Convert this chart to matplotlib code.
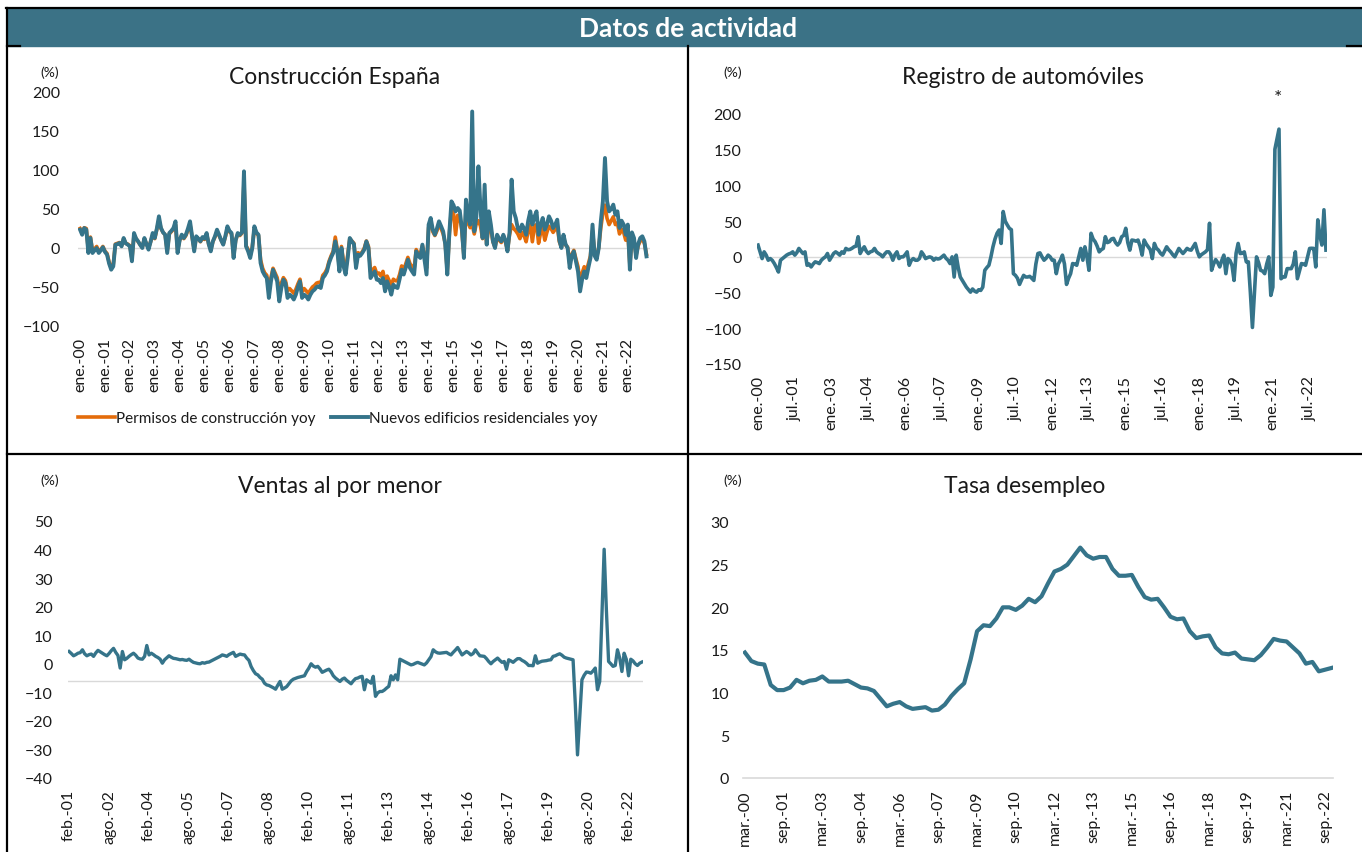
import matplotlib
matplotlib.use("Agg")
import matplotlib.pyplot as plt
from matplotlib.lines import Line2D
from matplotlib.patches import Rectangle
import numpy as np

# Datos de actividad - España (yoy %, tasa de paro %)

# Construcción: mensual, ene.-00 .. oct.-22
nuevos_edificios = [
    23.5, 17, 25.6, 23.5, -6.4, 12.8, -6.4, -3, 0, -6.4, -3, 1,
    -5, -8.5, -20, -27.8, -23.5, 4.3, 5, 6.4, 2.1, 12.8, 6, 4.3,
    2.1, -17, 19.2, 12, 8.5, 4, 0, 12.8, 5, -2.1, 8, 19.2,
    12.8, 25, 40.6, 25.6, 20, 17.1, -6.4, 19.2, 22, 25.6, 34.2, -6.4,
    10, 17.1, 12.8, 17.1, 25, 34.2, 15, -4.3, 15, 12, 8.5, 14,
    12, 19.2, 5, -4.3, 8.5, 15, 23.5, 17, 10, 4.3, 15, 27.8,
    22, 19.2, -12.8, 10, 19.2, 17, 20, 98.3, 2.1, -4.3, -12.8, 0,
    27.8, 20, 17, -19.2, -30, -35, -38.5, -64, -42.7, -27.8, -35, -42.7,
    -68.4, -51.3, -40.6, -45, -64, -59.8, -62, -66, -59.8, -50, -42.7, -64,
    -59.8, -62, -66, -60, -55.6, -53.4, -50, -49, -51.3, -38.5, -35, -30,
    -19.2, -12, -6.4, 8.5, -4.3, -30, 0, -23.5, -34, -12.8, 12.8, 8.5,
    5, -25.6, -8.5, -10, -6.4, -2, 8.5, 0, -38.5, -34, -30, -40.6,
    -40.6, -45, -38.5, -55.6, -42.7, -50, -59.8, -47, -50, -51.3, -40, -27.8,
    -34, -25, -15, -25.6, -30, -34, -4.3, -10, -12.8, 4.3, -15, -34,
    30, 38.5, 23.5, 17, 25, 34.2, 28, 21.4, 5, -34, 20, 59.8,
    55, 47, 51.3, 48, 25.6, -12.8, 62, 40, 30, 175, 21.4, 40,
    104.7, 50, 12.8, 81.2, 4.3, 47, 30, 8.5, 0, 17, 12, 8.5,
    17, 10, -4.3, 20, 87.6, 47, 38.5, 25, 21.4, 30, 25, 17,
    35, 47, 30, 40, 47, 17, 30, 38.5, 23.5, 30, 40.6, 35,
    25.6, 30, 36.3, 10, 0, 17, 5, 0, -25.6, -10, -4.3, -17,
    -30, -55.6, -40, -30, -38.5, -25, -12.8, 30, -10, -15, 0, 34.2,
    60, 115.4, 60, 47, 50, 55.6, 42.7, 47, 25.6, 35, 30, 17,
    30, -27.8, 20, 12.8, -12.8, 5, 12.8, 15, 8.5, -10.7,
]
permisos = [
    25, 20, 26, 25, -3, 14, -4, -1, 2, -4, -2, 2,
    -4, -7, -18, -25, -21, 5, 6, 7, 3, 12, 6, 5,
    3, -14, 17, 12, 8, 4, 1, 12, 5, 0, 8, 17,
    12, 24, 36, 25, 20, 17, -4, 18, 21, 24, 30, -3,
    10, 16, 12, 16, 23, 30, 14, -2, 14, 12, 8, 13,
    11, 18, 5, -2, 8, 14, 21, 16, 10, 5, 14, 24,
    21, 18, -10, 10, 18, 16, 19, 85, 3, -2, -10, 1,
    25, 19, 16, -15, -26, -32, -35, -55, -38, -26, -32, -38,
    -55, -45, -38, -42, -55, -52, -55, -58, -53, -46, -40, -56,
    -52, -55, -58, -54, -50, -48, -45, -44, -45, -35, -32, -27,
    -17, -10, -4, 14, -2, -25, 2, -18, -28, -9, 12, 9,
    6, -22, -6, -8, -5, 0, 9, 2, -30, -28, -25, -33,
    -32, -36, -30, -44, -36, -42, -48, -40, -42, -42, -34, -23,
    -28, -20, -12, -20, -24, -27, -2, -7, -8, 3, -10, -26,
    26, 34, 21, 16, 22, 30, 25, 18, 6, -30, 18, 50,
    45, 17, 42, 40, 22, -10, 50, 32, 26, 30, 18, 32,
    35, 28, 12, 30, 5, 32, 24, 8, 1, 14, 10, 7,
    14, 8, -3, 17, 30, 25, 22, 18, 12, 20, 16, 8,
    22, 30, 8, 28, 30, 6, 20, 25, 10, 20, 28, 25,
    20, 24, 28, 8, 1, 14, 4, 1, -20, -8, -3, -14,
    -24, -44, -32, -24, -30, -20, -10, 22, -7, -12, 1, 26,
    45, 55, 38, 30, 35, 40, 30, 32, 18, 24, 20, 10,
    20, -22, 14, 8, -9, 3, 9, 11, 6, -8,
]
construccion_ticks = [
    "ene.-00", "ene.-01", "ene.-02", "ene.-03", "ene.-04", "ene.-05",
    "ene.-06", "ene.-07", "ene.-08", "ene.-09", "ene.-10", "ene.-11",
    "ene.-12", "ene.-13", "ene.-14", "ene.-15", "ene.-16", "ene.-17",
    "ene.-18", "ene.-19", "ene.-20", "ene.-21", "ene.-22",
]

# Registro de automóviles: mensual, ene.-00 .. mar.-23
automoviles = [
    16.5, 7, -2.4, 7, 2.4, -4.7, -2.4, -5, -9.4, -15, -21.2, -4.7,
    -2.4, 0, 2.4, 4, 5, 7, 2.4, 6, 11.8, 8, 4.7, 7,
    -11.8, -10, -14.1, -10, -7, -8, -9.4, -4.7, -2, 0, 4.7, -4.7,
    0, 4.7, 7, 5, 2.4, 7, 5, 11.8, 10, 10.4, 12, 14.1,
    15, 28.2, 4.7, 10, 14.1, 8, 4.7, 7, 8, 11.8, 7, 4.7,
    3, 0, 4, 7, 7, 3, -4.7, 3, 7, -2.4, 0, 0,
    3, 7, -11.8, -5, -2.4, -4.7, -4.7, -2.4, 7, 3, -2.4, -1,
    0, -1, -4.7, -2, -3, -2.4, 0, 2.4, -2, -4.7, -9.4, 0,
    -28.2, 2.4, -15, -28.2, -33, -38, -42.4, -46, -49.4, -45, -48, -49.4,
    -46, -47, -42.4, -18.8, -15, -11.8, 0, 14.1, 25, 33, 37.6, 18.8,
    63.5, 50, 44.7, 40, 38, -23.5, -25.9, -30, -38.6, -32, -25.9, -28.2,
    -28.2, -27.3, -30, -33, -10, 4.7, 5.6, 0, -4.7, -2, 2.4, 0,
    -4.7, -4.7, -23.5, -10, -4.7, 2.4, -10, -38.6, -30, -23.5, -9.4, -10,
    -11.8, 0, 11.8, -4.7, 14.1, 0, -18.8, 33, 25, 21.2, 15, 7,
    10, 11.8, 28.2, 20, 21.2, 25, 25.9, 20, 16.5, 20, 28.2, 30,
    40, 20, 9.4, 23.5, 23, 22, 23.5, 15, 2.4, 23.5, 18, 14.1,
    10, -2.4, 18.8, 12, 9.4, 5, 2.4, 8, 14.1, 10, 7, 3,
    0, 6, 11.8, 8, 4.7, 8, 11.8, 10, 9.4, 14, 18.8, 8,
    0, 3, 5, 7, 10, 47, -18.8, -10, -3.8, -8, -14.1, -5,
    2.4, -23.5, -2.4, -5, -11.8, -33, 5, 18.8, 4.7, 5, 7, -7,
    -7, -50, -98.8, -50, 0, -8, -18.8, -20, -23.5, -10, 0, -54,
    -42.4, 150.6, 165, 178.8, -30.6, -28.2, -28.2, -16.5, -16.5, -16.5, -10, 7,
    -30.6, -20, -9.4, -10, -11.8, 0, 11.8, 12, 11.8, -14.1, 51.8, 30,
    16.5, 65.9, 9.4,
]
automoviles_ticks = [
    "ene.-00", "jul.-01", "ene.-03", "jul.-04", "ene.-06", "jul.-07",
    "ene.-09", "jul.-10", "ene.-12", "jul.-13", "ene.-15", "jul.-16",
    "ene.-18", "jul.-19", "ene.-21", "jul.-22",
]

# Ventas al por menor: mensual, feb.-01 .. ago.-22
ventas = [
    4.3, 3.6, 2.8, 3.2, 3.7, 3.9, 4.9, 3.5, 2.8, 3.2, 3.4,
    2.6, 3.8, 4.7, 4.2, 3.7, 3.2, 2.8, 3.6, 4.6, 5.4, 4.0, 2.9,
    -1.5, 4.3, 1.4, 1.9, 2.6, 3.2, 3.7, 3.0, 2.0, 1.7, 1.6, 2.6,
    6.4, 3.1, 3.7, 3.2, 2.6, 2.2, 1.6, 0.2, 1.4, 2.1, 2.8, 2.3,
    1.9, 1.8, 1.6, 1.4, 1.5, 1.3, 1.2, 1.6, 1.0, 0.5, 0.3, 0.1,
    0.0, 0.4, 0.2, 0.5, 0.6, 1.0, 1.4, 1.8, 2.2, 2.6, 3.1, 2.9,
    2.6, 3.2, 3.6, 4.0, 2.6, 3.0, 3.4, 3.2, 3.1, 2.0, 1.2, -1.0,
    -2.4, -3.5, -3.9, -4.8, -5.4, -6.8, -7.4, -7.6, -8.0, -8.4, -8.9, -7.5,
    -6.2, -8.9, -8.5, -8.0, -7.0, -6.0, -5.4, -5.1, -4.8, -4.6, -4.4, -4.2,
    -2.7, -1.5, 0.0, -0.8, -1.2, -0.9, -1.8, -3.0, -2.6, -2.2, -1.9, -2.8,
    -4.2, -5.0, -5.6, -6.2, -5.4, -5.0, -5.8, -6.4, -7.0, -6.0, -5.2, -5.0,
    -4.6, -4.4, -9.1, -5.6, -6.2, -6.8, -4.4, -11.4, -10.2, -9.7, -9.7, -9.2,
    -8.5, -7.9, -4.2, -5.6, -3.9, -5.6, 1.6, 1.2, 0.8, 0.4, 0.0, -0.4,
    -0.2, 0.2, 0.5, 0.2, -0.1, -0.4, 0.3, 1.4, 2.5, 4.9, 4.2, 3.8,
    3.7, 3.8, 3.9, 4.0, 3.5, 3.1, 4.0, 4.8, 5.7, 4.4, 3.1, 3.7,
    4.3, 3.8, 3.1, 3.6, 4.9, 3.8, 2.8, 2.7, 2.6, 1.8, 0.8, 0.0,
    0.8, 1.4, 2.0, 1.2, 0.5, 0.8, -1.9, 1.4, 1.0, 0.5, 1.2, 1.8,
    1.8, 1.2, 0.8, 0.2, -0.6, -0.6, -0.7, 2.8, 0.2, 0.6, 0.9, 1.0,
    1.1, 1.3, 1.4, 2.6, 2.8, 3.2, 3.5, 3.0, 2.3, 2.0, 1.8, 1.6,
    1.4, -14.0, -31.9, -19.0, -5.6, -4.0, -2.9, -3.0, -3.3, -2.5, -1.5, -9.1,
    -6.2, 17.0, 40.1, 19.0, 0.8, 0.0, -0.9, -0.6, 4.9, 2.0, -2.7, 3.7,
    1.5, -4.2, 1.6, 1.0, 0.0, -0.6, 0.2, 0.6,
]
ventas_ticks = [
    "feb.-01", "ago.-02", "feb.-04", "ago.-05", "feb.-07", "ago.-08",
    "feb.-10", "ago.-11", "feb.-13", "ago.-14", "feb.-16", "ago.-17",
    "feb.-19", "ago.-20", "feb.-22",
]

# Tasa de desempleo: trimestral, mar.-00 .. dic.-22
desempleo = [
    14.7, 13.7, 13.4, 13.3, 10.9, 10.3, 10.3, 10.6,
    11.5, 11.1, 11.4, 11.5, 11.9, 11.3, 11.3, 11.3,
    11.4, 11.0, 10.6, 10.5, 10.2, 9.3, 8.4, 8.7,
    8.9, 8.4, 8.1, 8.2, 8.3, 7.9, 8.0, 8.6,
    9.6, 10.4, 11.1, 13.9, 17.2, 17.9, 17.8, 18.7,
    20.0, 20.0, 19.7, 20.2, 21.0, 20.6, 21.3, 22.8,
    24.2, 24.5, 25.0, 26.0, 27.0, 26.1, 25.7, 25.9,
    25.9, 24.5, 23.7, 23.7, 23.8, 22.4, 21.2, 20.9,
    21.0, 20.0, 18.9, 18.6, 18.7, 17.2, 16.4, 16.6,
    16.7, 15.3, 14.6, 14.5, 14.7, 14.0, 13.9, 13.8,
    14.4, 15.3, 16.3, 16.1, 16.0, 15.3, 14.6, 13.4,
    13.6, 12.5, 12.7, 12.9,
]
desempleo_ticks = [
    "mar.-00", "sep.-01", "mar.-03", "sep.-04", "mar.-06", "sep.-07",
    "mar.-09", "sep.-10", "mar.-12", "sep.-13", "mar.-15", "sep.-16",
    "mar.-18", "sep.-19", "mar.-21", "sep.-22",
]

W, H = 1362, 853
TEAL = "#35748a"
ORANGE = "#e46c0a"
HEADER = "#3b7286"
ZERO = "#d9d9d9"
INK = "#1a1a1a"

plt.rcParams["font.family"] = ["Lato", "DejaVu Sans"]


def fx(px):
    return px / W


def fy(py):
    return 1 - py / H


def panel(fig, box, xlim, ylim, yticks, step, labels, ypad, xpad):
    # box = (left, top, right, bottom) in pixels
    left, top, right, bottom = box
    ax = fig.add_axes([fx(left), fy(bottom), (right - left) / W, (bottom - top) / H])
    ax.set_xlim(*xlim)
    ax.set_ylim(*ylim)
    for s in ax.spines.values():
        s.set_visible(False)
    ax.set_yticks(yticks)
    ax.set_xticks(np.arange(len(labels)) * step)
    ax.set_xticklabels(labels, rotation=90)
    ax.tick_params(axis="both", length=0, labelsize=11.5, colors=INK)
    ax.tick_params(axis="y", pad=ypad)
    ax.tick_params(axis="x", pad=xpad)
    ax.patch.set_alpha(0)
    return ax


fig = plt.figure(figsize=(W / 100, H / 100), dpi=100)

# header band and frame
fig.add_artist(Rectangle((fx(8), fy(47)), (W - 8) / W, 37 / H,
                         transform=fig.transFigure, color=HEADER, zorder=0))
fig.text(fx(688), fy(29), "Datos de actividad", color="white", fontsize=19,
         fontweight="bold", ha="center", va="center")
frame = [((6, 9), (W, 9)), ((7, 9), (7, H)), ((688, 47), (688, H)),
         ((7, 455), (W, 455)), ((7, 47), (20, 47)), ((1347, 47), (W, 47))]
for (x0, y0), (x1, y1) in frame:
    fig.add_artist(Line2D([fx(x0), fx(x1)], [fy(y0), fy(y1)],
                          transform=fig.transFigure, color="black", lw=1.6))

# Construcción España
ax1 = panel(fig, (78, 93, 650, 327), (-1, 274.7), (-100, 200),
            np.arange(-100, 201, 50), 12, construccion_ticks, 13, 8)
ax1.axhline(0, color=ZERO, lw=1, zorder=1)
ax1.plot(np.arange(len(permisos)), permisos, color=ORANGE, lw=2.6, zorder=2,
         label="Permisos de construcción yoy")
ax1.plot(np.arange(len(nuevos_edificios)), nuevos_edificios, color=TEAL, lw=2.8,
         zorder=3, label="Nuevos edificios residenciales yoy")
ax1.legend(loc="center", bbox_to_anchor=(fx(338), fy(419)),
           bbox_transform=fig.transFigure, ncol=2, frameon=False,
           fontsize=11, handlelength=2.4, handletextpad=0.1,
           columnspacing=1.0, labelcolor=INK)
fig.text(fx(335), fy(77), "Construcción España", fontsize=16.5,
         ha="center", va="center", color=INK)
fig.text(fx(50), fy(73), "(%)", fontsize=10, ha="center", va="center", color=INK)

# Registro de automóviles
ax2 = panel(fig, (757, 115, 1327, 365), (-0.5, 278.5), (-150, 200),
            np.arange(-150, 201, 50), 18, automoviles_ticks, 11, 8)
ax2.axhline(0, color=ZERO, lw=1, zorder=1)
ax2.plot(np.arange(len(automoviles)), automoviles, color=TEAL, lw=2.6, zorder=3)
fig.text(fx(1023), fy(78), "Registro de automóviles", fontsize=16.5,
         ha="center", va="center", color=INK)
fig.text(fx(733), fy(73), "(%)", fontsize=10, ha="center", va="center", color=INK)
fig.text(fx(1278), fy(98), "*", fontsize=14, ha="center", va="center", color=INK)

# Ventas al por menor
ax3 = panel(fig, (68, 522, 643, 779), (-0.5, 258.5), (-40, 50),
            np.arange(-40, 51, 10), 18, ventas_ticks, 11, 8)
ax3.axhline(-6, color=ZERO, lw=1, zorder=1)
ax3.plot(np.arange(len(ventas)), ventas, color=TEAL, lw=2.4, zorder=3)
fig.text(fx(340), fy(487), "Ventas al por menor", fontsize=16.5,
         ha="center", va="center", color=INK)
fig.text(fx(50), fy(481), "(%)", fontsize=10, ha="center", va="center", color=INK)

# Tasa desempleo
ax4 = panel(fig, (743, 523, 1333, 779), (-0.3, 91.2), (0, 30),
            np.arange(0, 31, 5), 6, desempleo_ticks, 10, 8)
ax4.axhline(0, color=ZERO, lw=1.2, zorder=1, clip_on=False)
ax4.plot(np.arange(len(desempleo)), desempleo, color=TEAL, lw=3.0, zorder=3)
fig.text(fx(1025), fy(487), "Tasa desempleo", fontsize=16.5,
         ha="center", va="center", color=INK)
fig.text(fx(733), fy(481), "(%)", fontsize=10, ha="center", va="center", color=INK)

fig.savefig("out.png", dpi=100)
